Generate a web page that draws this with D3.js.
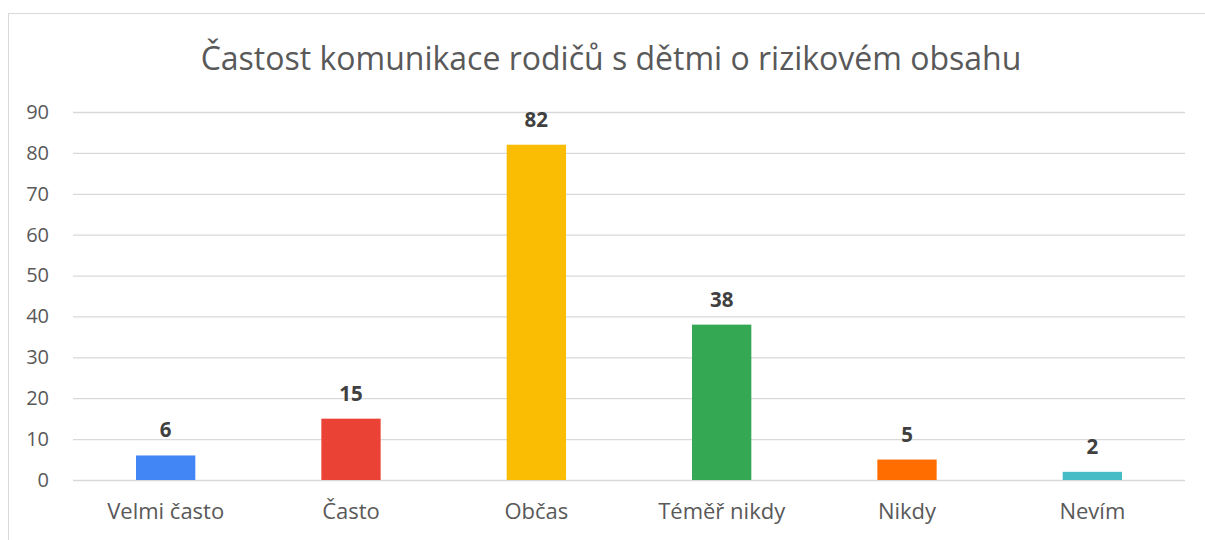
<!DOCTYPE html>
<html>
<head>
<meta charset="utf-8">
<script src="https://cdn.jsdelivr.net/npm/d3@7"></script>
<style>
  body { margin: 0; background: #fff; }
  svg { display: block; font-family: "Open Sans", "Noto Sans", sans-serif; }
</style>
</head>
<body>
<svg id="chart"></svg>
<script>
const categories = ["Velmi často", "Často", "Občas", "Téměř nikdy", "Nikdy", "Nevím"]
const values = [6, 15, 82, 38, 5, 2]
const colors = ["#4285F4", "#EA4335", "#FBBC04", "#34A853", "#FF6D01", "#46BDC6"]
const yTicks = [0, 10, 20, 30, 40, 50, 60, 70, 80, 90]
const title = "Častost komunikace rodičů s dětmi o rizikovém obsahu"

const width = 1205
const height = 540
const margin = { top: 112, right: 20, bottom: 60, left: 73 }

const svg = d3.select("#chart").attr("width", width).attr("height", height)

// Chart frame
svg.append("rect")
  .attr("x", 8.5).attr("y", 13.5)
  .attr("width", width).attr("height", height)
  .attr("fill", "none")
  .attr("stroke", "#d9d9d9")

const x = d3.scaleBand()
  .domain(categories)
  .range([margin.left, 1185])
  .paddingInner(0.68)
  .paddingOuter(0.34)

const y = d3.scaleLinear()
  .domain([0, 90])
  .range([480, 112])

// Gridlines + tick labels
const yAxis = svg.append("g")
  .attr("transform", `translate(${margin.left},0)`)
  .call(d3.axisLeft(y).tickValues(yTicks).tickSize(-(1185 - margin.left)).tickPadding(24))
yAxis.select(".domain").remove()
yAxis.selectAll("line").attr("stroke", "#d9d9d9").attr("stroke-width", 1.3)
yAxis.selectAll("text").attr("fill", "#595959").attr("font-size", "20px")
  .attr("font-family", "'Open Sans', sans-serif")

// Bars
svg.append("g")
  .selectAll("rect")
  .data(values)
  .join("rect")
  .attr("x", (d, i) => x(categories[i]))
  .attr("y", (d) => y(d))
  .attr("width", x.bandwidth())
  .attr("height", (d) => y(0) - y(d))
  .attr("fill", (d, i) => colors[i])

// Data labels
svg.append("g")
  .selectAll("text")
  .data(values)
  .join("text")
  .attr("x", (d, i) => x(categories[i]) + x.bandwidth() / 2)
  .attr("y", (d) => y(d) - 18)
  .attr("text-anchor", "middle")
  .attr("font-size", "20.5px")
  .attr("font-weight", "700")
  .attr("fill", "#404040")
  .text((d) => d)

// Category labels
const xAxis = svg.append("g")
  .attr("transform", `translate(0,480)`)
  .call(d3.axisBottom(x).tickSize(0).tickPadding(23))
xAxis.select(".domain").remove()
xAxis.selectAll("text").attr("fill", "#595959").attr("font-size", "22px")
  .attr("font-family", "'Open Sans', sans-serif")

// Title
svg.append("text")
  .attr("x", 611)
  .attr("y", 70)
  .attr("text-anchor", "middle")
  .attr("font-size", "32px")
  .attr("fill", "#595959")
  .text(title)
</script>
</body>
</html>
